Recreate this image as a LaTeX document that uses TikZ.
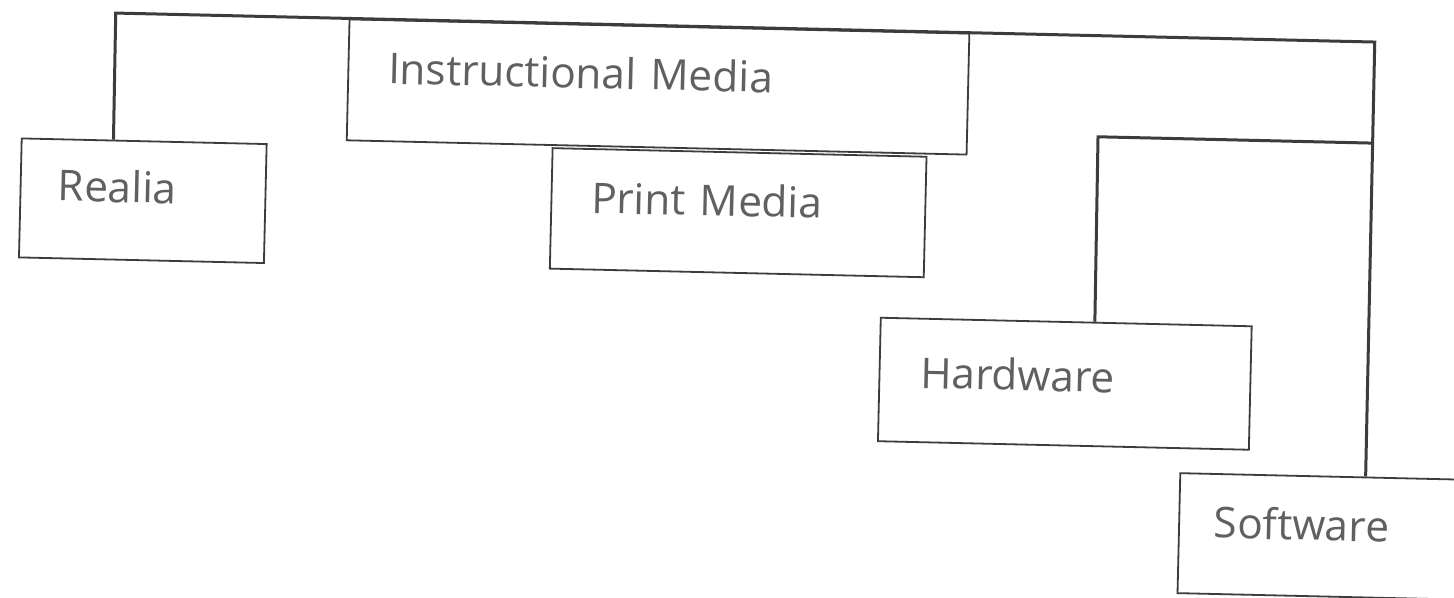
\documentclass[tikz,border=0pt]{standalone}
\usepackage{fontspec}
\setmainfont{Open Sans}
\usetikzlibrary{calc}
\definecolor{linegray}{HTML}{3C3C3C}
\definecolor{textgray}{HTML}{606060}
\begin{document}
\begin{tikzpicture}[x=1pt,y=1pt,
  box/.style={draw=linegray, line width=0.9pt, anchor=north west, inner ysep=0pt,
    align=left, text=textgray, font=\fontsize{21.2}{25}\selectfont},
  conn/.style={draw=linegray, line width=1.5pt, line join=miter}]
\useasboundingbox (0,0) rectangle (727,-299);
\clip (0,0) rectangle (727,-299);
\fill[white] (0,0) rectangle (727,-299);
\begin{scope}[rotate=-1.32, transform shape]
  \node[box, text width=84.9pt, inner xsep=18.8pt, text height=30.85pt, text depth=28.65pt]
    (realia) at (12,-68.5) {Realia};
  \node[box, text width=270pt, inner xsep=20pt, text height=31.8pt, text depth=28.7pt]
    (im) at (174.5,-5.2) {Instructional Media};
  \node[box, text width=147pt, inner xsep=20pt, text height=32pt, text depth=28.25pt]
    (pm) at (277.5,-67.25) {Print Media};
  \node[box, text width=144.5pt, inner xsep=20.5pt, text height=34.75pt, text depth=27pt]
    (hw) at (443.5,-148.25) {Hardware};
  \node[box, text width=150.5pt, inner xsep=17.5pt, text height=32pt, text depth=28pt]
    (sw) at (595,-222.5) {Software};
  \coordinate (tl) at (58,-5.2);
  \coordinate (tr) at (687.75,-5.2);
  \coordinate (ml) at (550.5,-55.75);
  \coordinate (mr) at (687.75,-55.75);
  \draw[conn] ($(realia.north west)!0.3755!(realia.north east)$) -- (tl) -- (tr) -- (sw.north);
  \draw[conn] ($(hw.north west)!0.577!(hw.north east)$) -- (ml) -- (mr);
\end{scope}
\end{tikzpicture}
\end{document}
